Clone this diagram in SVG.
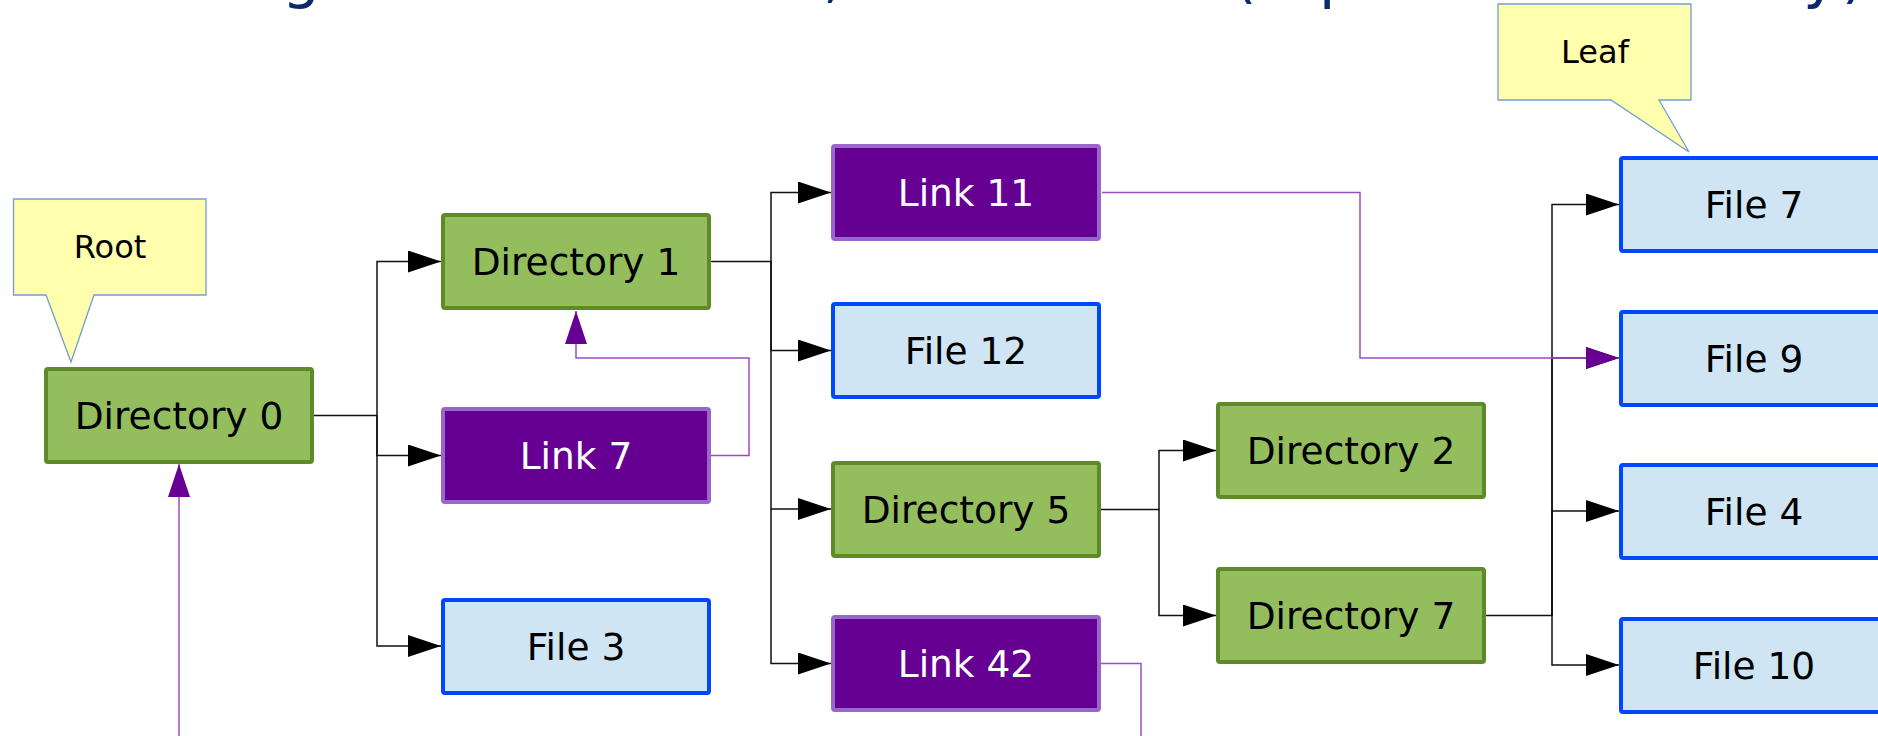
<svg xmlns="http://www.w3.org/2000/svg" width="1878" height="736" viewBox="0 0 1878 736">
<style>
.lbl{font-family:"DejaVu Sans","Liberation Sans",sans-serif;font-size:37.5px;text-anchor:middle;fill:#000}
.wl{fill:#fff}
.dir{fill:#94bd5e;stroke:#5e8a28;stroke-width:4}
.lnk{fill:#660093;stroke:#9966cc;stroke-width:4}
.fil{fill:#cfe5f3;stroke:#0047ff;stroke-width:4}
.call{fill:#ffffae;stroke:#729fcf;stroke-width:1.3}
.ctext{font-family:"DejaVu Sans","Liberation Sans",sans-serif;font-size:32px;text-anchor:middle;fill:#000}
.blk{fill:none;stroke:#111;stroke-width:1.5}
.pur{fill:none;stroke:#9a4cc2;stroke-width:1.5}
.title{font-family:"DejaVu Sans","Liberation Sans",sans-serif;font-size:60px;fill:#0b2a6b}
</style>
<defs>
<marker id="ab" markerUnits="userSpaceOnUse" markerWidth="34" markerHeight="22" refX="33" refY="11" orient="auto"><path d="M0,0 L33,11 L0,22 Z" fill="#000"/></marker>
<marker id="ap" markerUnits="userSpaceOnUse" markerWidth="34" markerHeight="22" refX="33" refY="11" orient="auto"><path d="M0,0 L33,11 L0,22 Z" fill="#670092"/></marker>
</defs>

<text class="title" y="-4"><tspan x="282">g</tspan><tspan x="823">,</tspan><tspan x="1233">(</tspan><tspan x="1319">p</tspan><tspan x="1803">y</tspan><tspan x="1842">)</tspan></text>

<g id="connectors">
<path class="blk" d="M314,415.5 H377 V261.5 H441" marker-end="url(#ab)"/>
<path class="blk" d="M377,415.5 V455.5 H441" marker-end="url(#ab)"/>
<path class="blk" d="M377,415.5 V646 H441" marker-end="url(#ab)"/>
<path class="blk" d="M711,261.5 H771 V192.5 H831" marker-end="url(#ab)"/>
<path class="blk" d="M771,261.5 V350.5 H831" marker-end="url(#ab)"/>
<path class="blk" d="M771,261.5 V509 H831" marker-end="url(#ab)"/>
<path class="blk" d="M771,509 V663.5 H831" marker-end="url(#ab)"/>
<path class="blk" d="M1101,509.5 H1159 V450.5 H1216" marker-end="url(#ab)"/>
<path class="blk" d="M1159,509.5 V615.5 H1216" marker-end="url(#ab)"/>
<path class="blk" d="M1486,615.5 H1552 V204.5 H1619" marker-end="url(#ab)"/>
<path class="blk" d="M1552,615.5 V358 H1619" marker-end="url(#ab)"/>
<path class="blk" d="M1552,615.5 V511 H1619" marker-end="url(#ab)"/>
<path class="blk" d="M1552,615.5 V665 H1619" marker-end="url(#ab)"/>
<path class="pur" d="M711,455.5 H749 V358 H576 V311" marker-end="url(#ap)"/>
<path class="pur" d="M1102,192.5 H1360 V358 H1619" marker-end="url(#ap)"/>
<path class="pur" d="M1101,663.5 H1141 V736"/>
<path class="pur" d="M179,736 V464" marker-end="url(#ap)"/>
</g>

<g id="callout-root">
<path class="call" d="M13.5,199 H206 V295 H94 L71,362 L46,295 H13.5 Z"/>
<text class="ctext" x="110" y="258">Root</text>
</g>
<g id="callout-leaf">
<path class="call" d="M1498,4 H1691 V100 H1659 L1689,152 L1611,100 H1498 Z"/>
<text class="ctext" x="1595" y="63">Leaf</text>
</g>

<g id="directory-0"><rect class="dir" x="46" y="369" width="266" height="93" rx="2"/><text class="lbl" x="179" y="429">Directory 0</text></g>
<g id="directory-1"><rect class="dir" x="443" y="215" width="266" height="93" rx="2"/><text class="lbl" x="576" y="275">Directory 1</text></g>
<g id="link-7"><rect class="lnk" x="443" y="409" width="266" height="93" rx="2"/><text class="lbl wl" x="576" y="469">Link 7</text></g>
<g id="file-3"><rect class="fil" x="443" y="600" width="266" height="93" rx="2"/><text class="lbl" x="576" y="660">File 3</text></g>
<g id="link-11"><rect class="lnk" x="833" y="146" width="266" height="93" rx="2"/><text class="lbl wl" x="966" y="206">Link 11</text></g>
<g id="file-12"><rect class="fil" x="833" y="304" width="266" height="93" rx="2"/><text class="lbl" x="966" y="364">File 12</text></g>
<g id="directory-5"><rect class="dir" x="833" y="463" width="266" height="93" rx="2"/><text class="lbl" x="966" y="523">Directory 5</text></g>
<g id="link-42"><rect class="lnk" x="833" y="617" width="266" height="93" rx="2"/><text class="lbl wl" x="966" y="677">Link 42</text></g>
<g id="directory-2"><rect class="dir" x="1218" y="404" width="266" height="93" rx="2"/><text class="lbl" x="1351" y="464">Directory 2</text></g>
<g id="directory-7"><rect class="dir" x="1218" y="569" width="266" height="93" rx="2"/><text class="lbl" x="1351" y="629">Directory 7</text></g>
<g id="file-7"><rect class="fil" x="1621" y="158" width="266" height="93" rx="2"/><text class="lbl" x="1754" y="218">File 7</text></g>
<g id="file-9"><rect class="fil" x="1621" y="312" width="266" height="93" rx="2"/><text class="lbl" x="1754" y="371.5">File 9</text></g>
<g id="file-4"><rect class="fil" x="1621" y="465" width="266" height="93" rx="2"/><text class="lbl" x="1754" y="524.5">File 4</text></g>
<g id="file-10"><rect class="fil" x="1621" y="619" width="266" height="93" rx="2"/><text class="lbl" x="1754" y="678.5">File 10</text></g>
</svg>
